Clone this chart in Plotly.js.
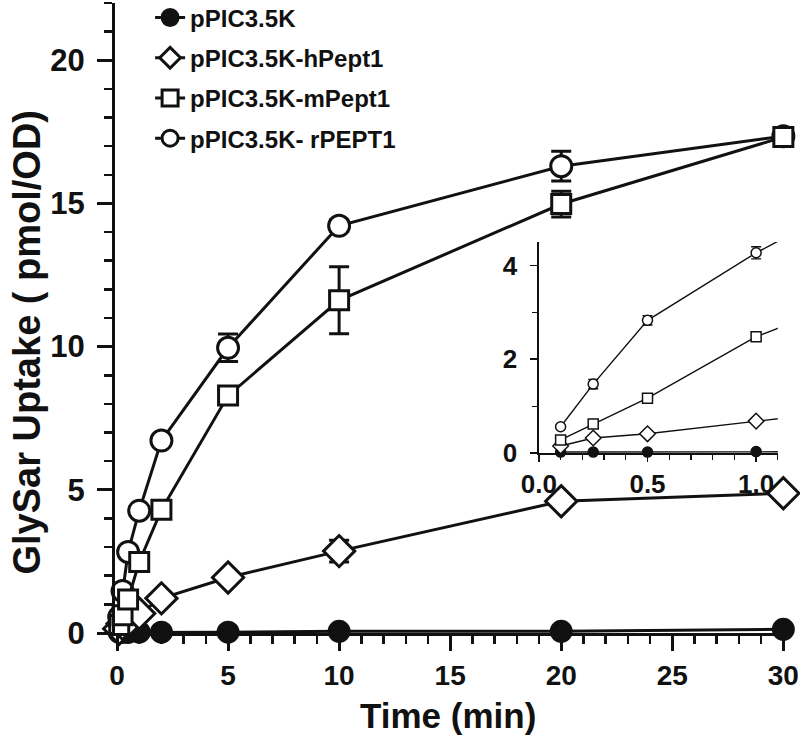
<!DOCTYPE html>
<html>
<head>
<meta charset="utf-8">
<script src="https://cdn.plot.ly/plotly-3.0.1.min.js"></script>
<style>html,body{margin:0;padding:0;background:#fff}#chart{width:800px;height:742px}</style>
</head>
<body>
<div id="chart"></div>
<script>
// ---- data ----
const timeMin = [0.1, 0.25, 0.5, 1, 2, 5, 10, 20, 30];

const pPIC      = [0.02, 0.02, 0.02, 0.03, 0.03, 0.03, 0.06, 0.06, 0.13];
const pPIC_err  = [0, 0, 0, 0, 0, 0, 0, 0, 0];

const hPept1     = [0.15, 0.32, 0.41, 0.68, 1.21, 1.94, 2.86, 4.60, 4.88];
const hPept1_err = [0, 0, 0, 0, 0.05, 0.1, 0.38, 0.1, 0.1];

const mPept1     = [0.28, 0.62, 1.17, 2.48, 4.30, 8.29, 11.62, 14.98, 17.32];
const mPept1_err = [0, 0, 0, 0, 0.15, 0.2, 1.17, 0.45, 0.15];

const rPEPT1     = [0.56, 1.47, 2.83, 4.27, 6.72, 9.96, 14.22, 16.30, 17.35];
const rPEPT1_err = [0.03, 0.10, 0.10, 0.13, 0.10, 0.48, 0.20, 0.52, 0.20];

const seriesNames = ['pPIC3.5K', 'pPIC3.5K-hPept1', 'pPIC3.5K-mPept1', 'pPIC3.5K- rPEPT1'];

const xTitle = 'Time (min)';
const yTitle = 'GlySar Uptake ( pmol/OD)';

// ---- styles ----
const INK = '#111111';
const FONT = 'Liberation Sans, Arial, Helvetica, sans-serif';

const series = [
  {name: seriesNames[0], y: pPIC,   e: pPIC_err,   sym: 'circle',  fill: INK,    size: 20, isize: 10, rank: 1},
  {name: seriesNames[1], y: hPept1, e: hPept1_err, sym: 'diamond', fill: '#fff', size: 24, isize: 12, rank: 2},
  {name: seriesNames[3], y: rPEPT1, e: rPEPT1_err, sym: 'circle',  fill: '#fff', size: 21, isize: 10, rank: 4},
  {name: seriesNames[2], y: mPept1, e: mPept1_err, sym: 'square',  fill: '#fff', size: 19, isize: 10, rank: 3}
];

const traces = [];
// main panel
series.forEach(s => {
  traces.push({
    type: 'scatter', mode: 'lines+markers', name: s.name,
    x: timeMin, y: s.y, xaxis: 'x', yaxis: 'y',
    legendgroup: s.name, legendrank: s.rank, cliponaxis: false,
    line: {color: INK, width: 3},
    marker: {symbol: s.sym, size: s.size, color: s.fill, line: {color: INK, width: 3}},
    error_y: {type: 'data', array: s.e, visible: true, color: INK, thickness: 3, width: 10}
  });
});
// inset panel: lines run past the axis end (clipped), markers for t <= 1
const lineIdx = timeMin.map((t, i) => i).filter(i => timeMin[i] <= 2);
const markIdx = timeMin.map((t, i) => i).filter(i => timeMin[i] <= 1);
series.forEach(s => {
  traces.push({
    type: 'scatter', mode: 'lines', showlegend: false, hoverinfo: 'skip',
    x: lineIdx.map(i => timeMin[i]), y: lineIdx.map(i => s.y[i]),
    xaxis: 'x2', yaxis: 'y2',
    line: {color: INK, width: 1.4}
  });
});
series.forEach(s => {
  traces.push({
    type: 'scatter', mode: 'markers', showlegend: false, cliponaxis: false,
    x: markIdx.map(i => timeMin[i]), y: markIdx.map(i => s.y[i]),
    xaxis: 'x2', yaxis: 'y2',
    marker: {symbol: s.sym, size: s.isize, color: s.fill, line: {color: INK, width: 1.5}},
    error_y: {type: 'data', array: markIdx.map(i => s.e[i]), visible: true, color: INK, thickness: 1.4, width: 5}
  });
});

const layout = {
  width: 800, height: 742,
  margin: {l: 115, r: 10, t: 3, b: 109, autoexpand: false},
  paper_bgcolor: '#fff', plot_bgcolor: 'rgba(0,0,0,0)',
  showlegend: true,
  legend: {
    x: 0.052, xanchor: 'left', y: 1.012, yanchor: 'top',
    bgcolor: 'rgba(0,0,0,0)', borderwidth: 0,
    font: {family: FONT, size: 24, color: INK, weight: 'bold'},
    tracegroupgap: 6, itemsizing: 'trace'
  },
  xaxis: {
    domain: [0, 1], range: [-0.09, 30.3], tick0: 0, dtick: 5,
    showline: true, linewidth: 3, linecolor: INK, zeroline: false, showgrid: false,
    ticks: 'outside', ticklen: 15, tickwidth: 3, tickcolor: INK, ticklabelstandoff: 0,
    minor: {ticks: 'outside', dtick: 1, tick0: 0, ticklen: 8, tickwidth: 2.5, tickcolor: INK, showgrid: false},
    tickfont: {family: FONT, size: 28, color: INK, weight: 'bold'},
    fixedrange: true
  },
  yaxis: {
    domain: [0, 1], range: [0, 22], tick0: 0, dtick: 5,
    showline: true, linewidth: 3, linecolor: INK, zeroline: false, showgrid: false,
    ticks: 'outside', ticklen: 15, tickwidth: 3, tickcolor: INK, ticklabelstandoff: 6,
    minor: {ticks: 'outside', dtick: 1, tick0: 0, ticklen: 8, tickwidth: 2.5, tickcolor: INK, showgrid: false},
    tickfont: {family: FONT, size: 31, color: INK, weight: 'bold'},
    fixedrange: true
  },
  xaxis2: {
    domain: [0.628, 0.982], anchor: 'y2', range: [0, 1.1], tick0: 0, dtick: 0.5, tickformat: '.1f',
    showline: true, linewidth: 1.5, linecolor: INK, zeroline: false, showgrid: false,
    ticks: 'outside', ticklen: 7, tickwidth: 1.5, tickcolor: INK, ticklabelstandoff: 0,
    minor: {ticks: 'outside', dtick: 0.1, tick0: 0, ticklen: 5, tickwidth: 1.2, tickcolor: INK, showgrid: false},
    tickfont: {family: FONT, size: 26, color: INK, weight: 'bold'},
    fixedrange: true
  },
  yaxis2: {
    domain: [0.2857, 0.6206], anchor: 'x2', range: [0, 4.5], tick0: 0, dtick: 2,
    showline: true, linewidth: 1.5, linecolor: INK, zeroline: false, showgrid: false,
    ticks: 'outside', ticklen: 7, tickwidth: 1.5, tickcolor: INK, ticklabelstandoff: 8,
    minor: {ticks: 'outside', dtick: 1, tick0: 0, ticklen: 5, tickwidth: 1.2, tickcolor: INK, showgrid: false},
    tickfont: {family: FONT, size: 26, color: INK, weight: 'bold'},
    fixedrange: true
  },
  annotations: [
    {text: yTitle, xref: 'paper', yref: 'paper', x: -0.131, y: 0.462,
     xanchor: 'center', yanchor: 'middle', textangle: -90, showarrow: false,
     font: {family: FONT, size: 38, color: INK, weight: 'bold'}},
    {text: xTitle, xref: 'paper', yref: 'paper', x: 0.494, y: -0.131,
     xanchor: 'center', yanchor: 'middle', showarrow: false,
     font: {family: FONT, size: 35, color: INK, weight: 'bold'}}
  ]
};

Plotly.newPlot('chart', traces, layout, {displayModeBar: false, staticPlot: true});
</script>
</body>
</html>
